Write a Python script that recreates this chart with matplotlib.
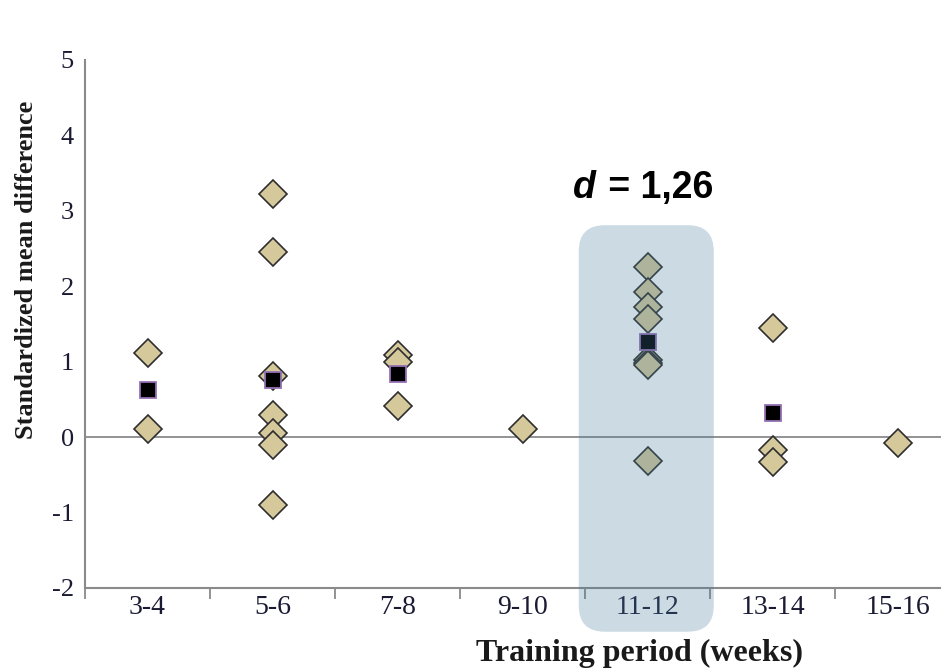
import numpy as np
import matplotlib.pyplot as plt
from matplotlib.patches import FancyBboxPatch

# training period groups and study effect sizes
periods = ['3-4', '5-6', '7-8', '9-10', '11-12', '13-14', '15-16']
effects = [
    [1.12, 0.11],
    [3.23, 2.46, 0.81, 0.30, 0.05, -0.11, -0.90],
    [1.09, 0.99, 0.41],
    [0.11],
    [2.26, 1.92, 1.73, 1.56, 1.02, 0.98, 0.95, -0.31],
    [1.45, -0.17, -0.33],
    [-0.08],
]
means = [0.63, 0.76, 0.84, None, 1.26, 0.32, None]
highlight = 4
d_value = '1,26'

fig = plt.figure(figsize=(9.41, 6.72), dpi=100)
W, H = 941.0, 672.0
# axis runs past the right edge of the figure
ax = fig.add_axes([85 / W, 1 - 588 / H, 875 / W, 528 / H])

serif = 'Liberation Serif'
ax.set_xlim(0, 7)
ax.set_ylim(-2, 5)

for i, vals in enumerate(effects):
    xs = np.full(len(vals), i + 0.5)
    ax.plot(xs, vals, linestyle='none', marker='D', markersize=14.5,
            markerfacecolor='#d5c99c', markeredgecolor='#2e2e2e',
            markeredgewidth=1.2, zorder=3, clip_on=False)

mx = [i + 0.5 for i, m in enumerate(means) if m is not None]
my = [m for m in means if m is not None]
ax.plot(mx, my, linestyle='none', marker='s', markersize=11.5,
        markerfacecolor='black', markeredgecolor='#9670b4',
        markeredgewidth=1.3, zorder=4)

ax.axhline(0, color='#8a8a8a', lw=1.3, zorder=2)

for s in ['top', 'right']:
    ax.spines[s].set_visible(False)
for s in ['left', 'bottom']:
    ax.spines[s].set_color('#8a8a8a')
    ax.spines[s].set_linewidth(1.5)

ax.set_xticks(np.arange(0, 8))
ax.set_xticklabels([])
ax.set_xticks(np.arange(0.5, 7), minor=True)
ax.set_xticklabels(periods, minor=True, fontfamily=serif, fontsize=20,
                   color='#1a1a33')
ax.tick_params(axis='x', which='major', length=8, width=1.3,
               color='#8a8a8a', direction='out')
ax.tick_params(axis='x', which='minor', length=0, pad=5)
ax.set_yticks(np.arange(-2, 6))
ax.set_yticklabels([str(v) for v in range(-2, 6)], fontfamily=serif,
                   fontsize=19, color='#1a1a33')
ax.tick_params(axis='y', length=0, pad=8)

ax.set_ylabel('Standardized mean difference', fontfamily=serif,
              fontsize=19, fontweight='bold', color='#1a1a1a')
ax.yaxis.set_label_coords(-0.054, 0.602)
fig.text(640 / W, 1 - 653 / H, 'Training period (weeks)', fontfamily=serif,
         fontsize=23, fontweight='bold', color='#1a1a1a',
         ha='center', va='center')

# shaded box around the highlighted group
px_x = 875 / 7.0
px_y = 528 / 7.0
r = 26 / px_x
box = FancyBboxPatch((highlight - 0.05, -2.58), 1.08, 2.81 + 2.58,
                     boxstyle='round,pad=0,rounding_size=%f' % r,
                     mutation_aspect=px_x / px_y,
                     facecolor='#467d9b', edgecolor='none', alpha=0.27,
                     zorder=5, clip_on=False)
ax.add_patch(box)

# effect size label: italic d followed by the value
fig.text(596 / W, 1 - 188 / H, 'd', fontfamily='Liberation Sans',
         fontsize=27, fontweight='bold', fontstyle='italic',
         ha='right', va='center')
fig.text(598 / W, 1 - 188 / H, ' = ' + d_value,
         fontfamily='Liberation Sans', fontsize=27, fontweight='bold',
         ha='left', va='center')

fig.savefig('out.png', dpi=100)
